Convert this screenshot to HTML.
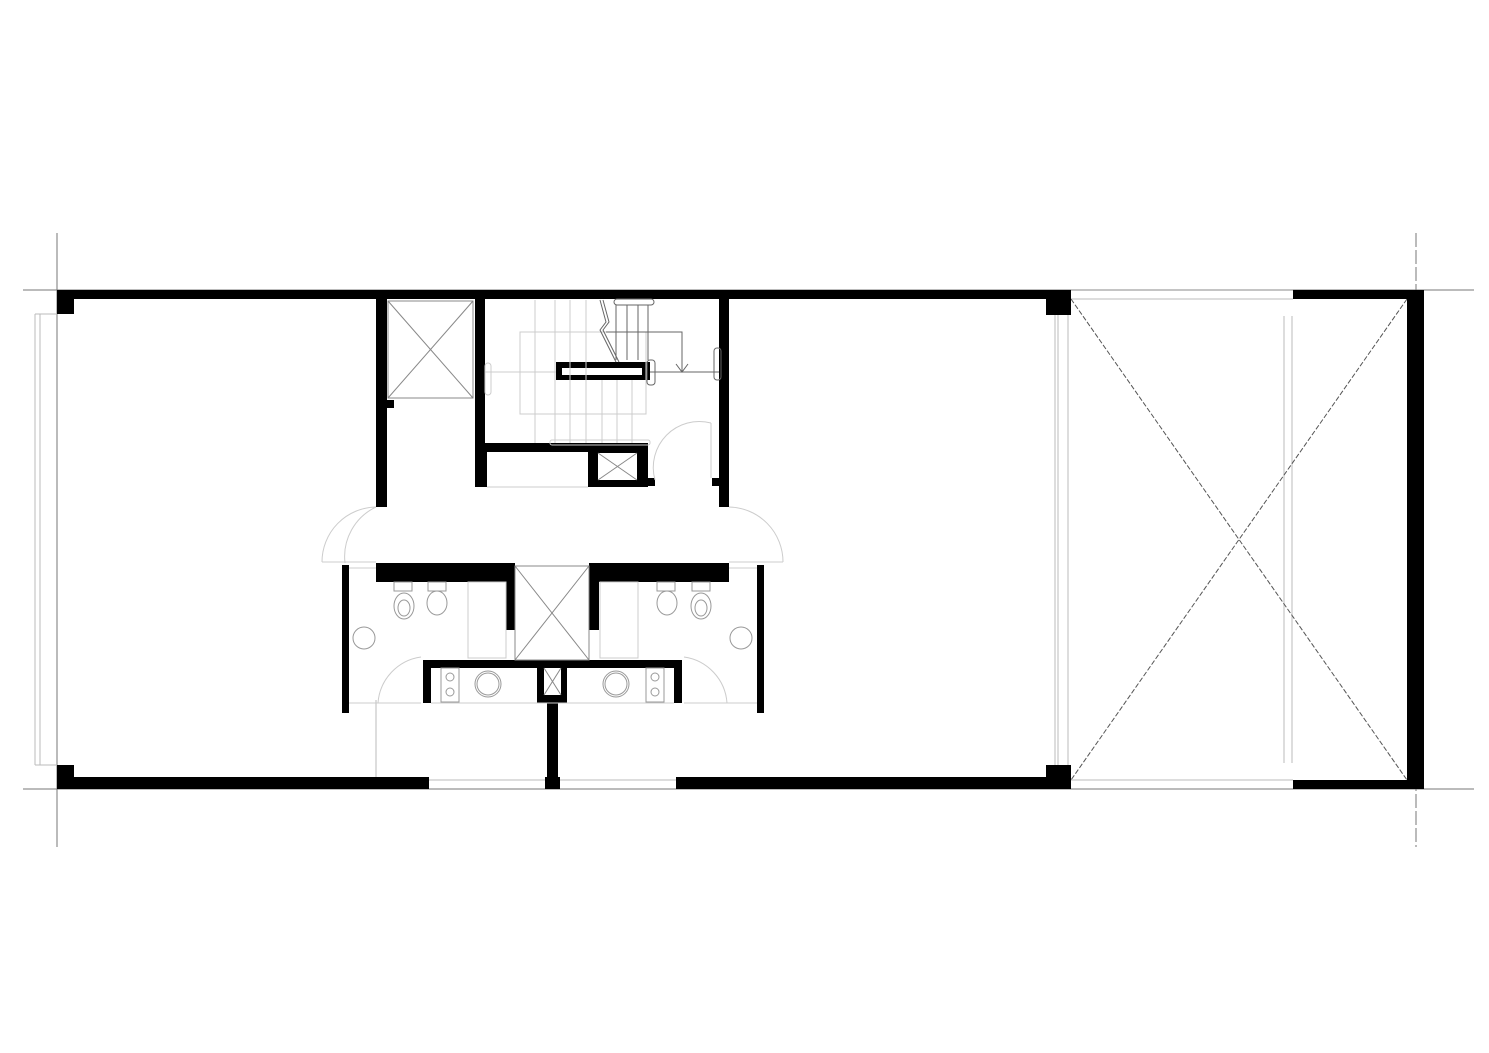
<!DOCTYPE html>
<html><head><meta charset="utf-8"><style>html,body{margin:0;padding:0;background:#fff}svg{display:block}</style></head>
<body>
<svg width="1489" height="1053" viewBox="0 0 1489 1053" xmlns="http://www.w3.org/2000/svg">
<rect width="1489" height="1053" fill="#fff"/>
<!-- guide lines -->
<g stroke="#777" stroke-width="1">
<line x1="57" y1="233" x2="57" y2="847"/>
<line x1="1416" y1="233" x2="1416" y2="847" stroke-dasharray="14 3"/>
<line x1="23" y1="290" x2="1474" y2="290"/>
<line x1="23" y1="789" x2="1474" y2="789"/>
</g>
<!-- light lines: windows -->
<g stroke="#bbb" stroke-width="1" fill="none">
<line x1="35" y1="314" x2="35" y2="765"/><line x1="40" y1="314" x2="40" y2="765"/>
<line x1="35" y1="314" x2="57" y2="314"/><line x1="35" y1="765" x2="57" y2="765"/>
<line x1="1071" y1="299" x2="1293" y2="299"/>
<line x1="1071" y1="780" x2="1293" y2="780"/>
<line x1="1055" y1="315" x2="1055" y2="765"/><line x1="1058" y1="315" x2="1058" y2="765"/><line x1="1068" y1="315" x2="1068" y2="765"/>
<line x1="1284" y1="316" x2="1284" y2="763"/><line x1="1292" y1="316" x2="1292" y2="763"/>
<line x1="429" y1="780" x2="676" y2="780"/>
<line x1="376" y1="700" x2="376" y2="777"/>
</g>
<line x1="1071" y1="290" x2="1293" y2="290" stroke="#888"/>
<!-- dashed diagonals -->
<g stroke="#555" stroke-width="1" stroke-dasharray="5 2">
<line x1="1071" y1="299" x2="1407" y2="780"/>
<line x1="1407" y1="299" x2="1071" y2="780"/>
</g>
<!-- walls -->
<g fill="#000">
<rect x="57" y="290" width="1014" height="9"/>
<rect x="57" y="290" width="17" height="24"/>
<rect x="1046" y="290" width="25" height="25"/>
<rect x="1293" y="290" width="131" height="9"/>
<rect x="1407" y="290" width="17" height="499"/>
<rect x="57" y="777" width="372" height="12"/>
<rect x="57" y="765" width="17" height="24"/>
<rect x="676" y="777" width="395" height="12"/>
<rect x="1046" y="765" width="25" height="24"/>
<rect x="1293" y="780" width="131" height="9"/>
<!-- core -->
<rect x="376" y="299" width="11" height="208"/>
<rect x="387" y="400" width="7" height="8"/>
<rect x="475" y="299" width="10" height="153"/>
<rect x="475" y="452" width="12" height="35"/>
<rect x="485" y="443" width="163" height="9"/>
<rect x="588" y="450" width="60" height="37"/>
<rect x="638" y="478" width="17" height="8"/>
<rect x="719" y="299" width="10" height="208"/>
<rect x="712" y="478" width="8" height="8"/>
<rect x="556" y="362" width="94" height="18"/>
<!-- toilets -->
<rect x="376" y="563" width="139" height="19"/>
<rect x="506" y="563" width="9" height="67"/>
<rect x="589" y="563" width="140" height="19"/>
<rect x="589" y="563" width="10" height="67"/>
<rect x="342" y="565" width="7" height="148"/>
<rect x="757" y="565" width="7" height="148"/>
<rect x="423" y="660" width="259" height="8"/>
<rect x="423" y="660" width="8" height="43"/>
<rect x="674" y="660" width="8" height="43"/>
<rect x="537" y="667" width="30" height="36"/>
<rect x="547" y="703" width="11" height="84"/>
<rect x="545" y="777" width="15" height="12"/>
</g>
<g fill="#fff">
<rect x="598" y="453" width="39" height="27"/>
<rect x="562" y="368" width="80" height="7"/>
<rect x="544" y="668" width="17" height="27"/>
</g>
<!-- shafts with X -->
<g stroke="#888" stroke-width="1" fill="none">
<rect x="388" y="301" width="85" height="97"/>
<line x1="388" y1="301" x2="473" y2="398"/><line x1="473" y1="301" x2="388" y2="398"/>
<line x1="598" y1="453" x2="637" y2="480"/><line x1="637" y1="453" x2="598" y2="480"/>
<line x1="544" y1="668" x2="561" y2="695"/><line x1="561" y1="668" x2="544" y2="695"/>
<rect x="515" y="566" width="74" height="94"/>
<line x1="515" y1="566" x2="589" y2="660"/><line x1="589" y1="566" x2="515" y2="660"/>
</g>
<!-- stairs -->
<g stroke="#ccc" stroke-width="1" fill="none">
<rect x="520" y="332" width="126" height="82"/>
<line x1="535" y1="300" x2="535" y2="443"/>
<line x1="555" y1="300" x2="555" y2="443"/>
<line x1="570" y1="300" x2="570" y2="443"/>
<line x1="586" y1="300" x2="586" y2="443"/>
<line x1="602" y1="380" x2="602" y2="443"/>
<line x1="617" y1="380" x2="617" y2="443"/>
<line x1="632" y1="380" x2="632" y2="443"/>
<line x1="485" y1="372" x2="556" y2="372"/>
<rect x="485" y="363" width="6" height="32" rx="3"/>
<rect x="550" y="440" width="100" height="5" rx="2"/>
<line x1="487" y1="487" x2="588" y2="487"/>
<path d="M345 563 A55 55 0 0 1 376 507"/>
<path d="M322 562 A55 55 0 0 1 376 507"/>
<line x1="322" y1="562" x2="376" y2="562"/>
<path d="M783 562 A55 55 0 0 0 729 507"/>
<line x1="729" y1="562" x2="783" y2="562"/>
<path d="M655 480 A46 46 0 0 1 711 423"/>
<line x1="711" y1="423" x2="711" y2="478"/>
<path d="M378 703 A50 50 0 0 1 421 657"/>
<path d="M727 703 A50 50 0 0 0 684 657"/>
<line x1="349" y1="703" x2="421" y2="703"/>
<line x1="684" y1="703" x2="757" y2="703"/>
<line x1="431" y1="703" x2="674" y2="703"/>
<rect x="468" y="582" width="38" height="76"/>
<rect x="600" y="582" width="38" height="76"/>
<line x1="349" y1="568" x2="376" y2="568"/><line x1="729" y1="568" x2="757" y2="568"/>
</g>
<g stroke="#666" stroke-width="1" fill="none">
<polyline points="600,300 606,322 600,330 616,362"/>
<polyline points="603,300 609,322 603,330 619,362"/>
<rect x="614" y="299" width="40" height="6" rx="3"/>
<line x1="616" y1="305" x2="616" y2="360"/><line x1="627" y1="305" x2="627" y2="360"/><line x1="638" y1="305" x2="638" y2="360"/><line x1="648" y1="305" x2="648" y2="360"/>
<polyline points="606,332 682,332 682,372"/>
<polyline points="676,364 682,372 688,364"/>
<line x1="650" y1="372" x2="719" y2="372"/>
<rect x="647" y="360" width="8" height="25" rx="3"/>
<rect x="714" y="348" width="7" height="32" rx="3"/>
</g>
<!-- fixtures -->
<g stroke="#999" stroke-width="1" fill="none">
<rect x="394" y="582" width="18" height="9"/><ellipse cx="404" cy="606" rx="10" ry="13"/><ellipse cx="404" cy="608" rx="6" ry="8"/>
<rect x="428" y="582" width="18" height="9"/><ellipse cx="437" cy="603" rx="10" ry="12"/>
<rect x="657" y="582" width="18" height="9"/><ellipse cx="667" cy="603" rx="10" ry="12"/>
<rect x="692" y="582" width="18" height="9"/><ellipse cx="701" cy="606" rx="10" ry="13"/><ellipse cx="701" cy="608" rx="6" ry="8"/>
<circle cx="364" cy="638" r="11"/><circle cx="741" cy="638" r="11"/>
<rect x="441" y="668" width="18" height="34"/><circle cx="450" cy="677" r="4"/><circle cx="450" cy="692" r="4"/>
<rect x="646" y="668" width="18" height="34"/><circle cx="655" cy="677" r="4"/><circle cx="655" cy="692" r="4"/>
<circle cx="488" cy="684" r="13"/><circle cx="488" cy="684" r="11"/>
<circle cx="616" cy="684" r="13"/><circle cx="616" cy="684" r="11"/>
</g>
</svg>
</body></html>
